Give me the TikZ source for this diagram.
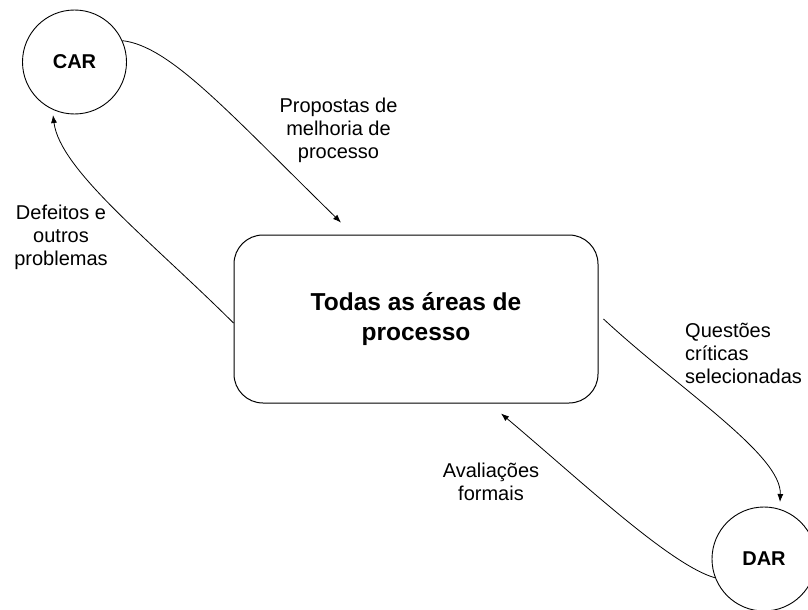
\documentclass[tikz,border=0pt]{standalone}
\usepackage{fontspec}
\setmainfont{Liberation Sans}
\usetikzlibrary{arrows.meta}
\begin{document}
\begin{tikzpicture}[x=1pt,y=-1pt,
  lbl/.style={font=\fontsize{20}{23}\selectfont, inner sep=0pt},
  circ/.style={draw, circle, line width=0.9pt, minimum size=104pt, inner sep=0pt, font=\fontsize{20}{24}\selectfont\bfseries},
  box/.style={draw, rounded corners=29pt, line width=1pt, minimum width=364pt, minimum height=168pt, inner sep=0pt, align=center, font=\fontsize{24.5}{30}\selectfont\bfseries},
  flow/.style={line width=0.8pt, -{Latex[length=8pt,width=6pt]}}]
\useasboundingbox (0,0) rectangle (808,610);
\node[circ] (car) at (74.5,62) {CAR};
\node[circ] (dar) at (764,559) {DAR};
\node[box] (area) at (416,319) {Todas as áreas de\\processo};
\node[lbl, align=center, anchor=base] (prop) at (338.5,158) {Propostas de\\melhoria de\\processo};
\node[lbl, align=center, anchor=base] (def) at (61,265) {Defeitos e\\outros\\problemas};
\node[lbl, align=left, anchor=base west] (quest) at (685,383) {Questões\\críticas\\selecionadas};
\node[lbl, align=center, anchor=base] (aval) at (491,500) {Avaliações\\formais};
\draw[flow] (car.24) .. controls (170,46) and (228,112) .. ([shift={(-75,-12)}]area.north);
\draw[flow] ([shift={(0,4)}]area.west) .. controls (150,240) and (60,170) .. ([shift={(-21.5,53)}]car.center);
\draw[flow] ([shift={(5,0)}]area.east) .. controls (680,390) and (782,455) .. ([shift={(16,-57)}]dar.center);
\draw[flow] (dar.201) .. controls (670,565) and (580,480) .. ([shift={(85,10)}]area.south);
\end{tikzpicture}
\end{document}
